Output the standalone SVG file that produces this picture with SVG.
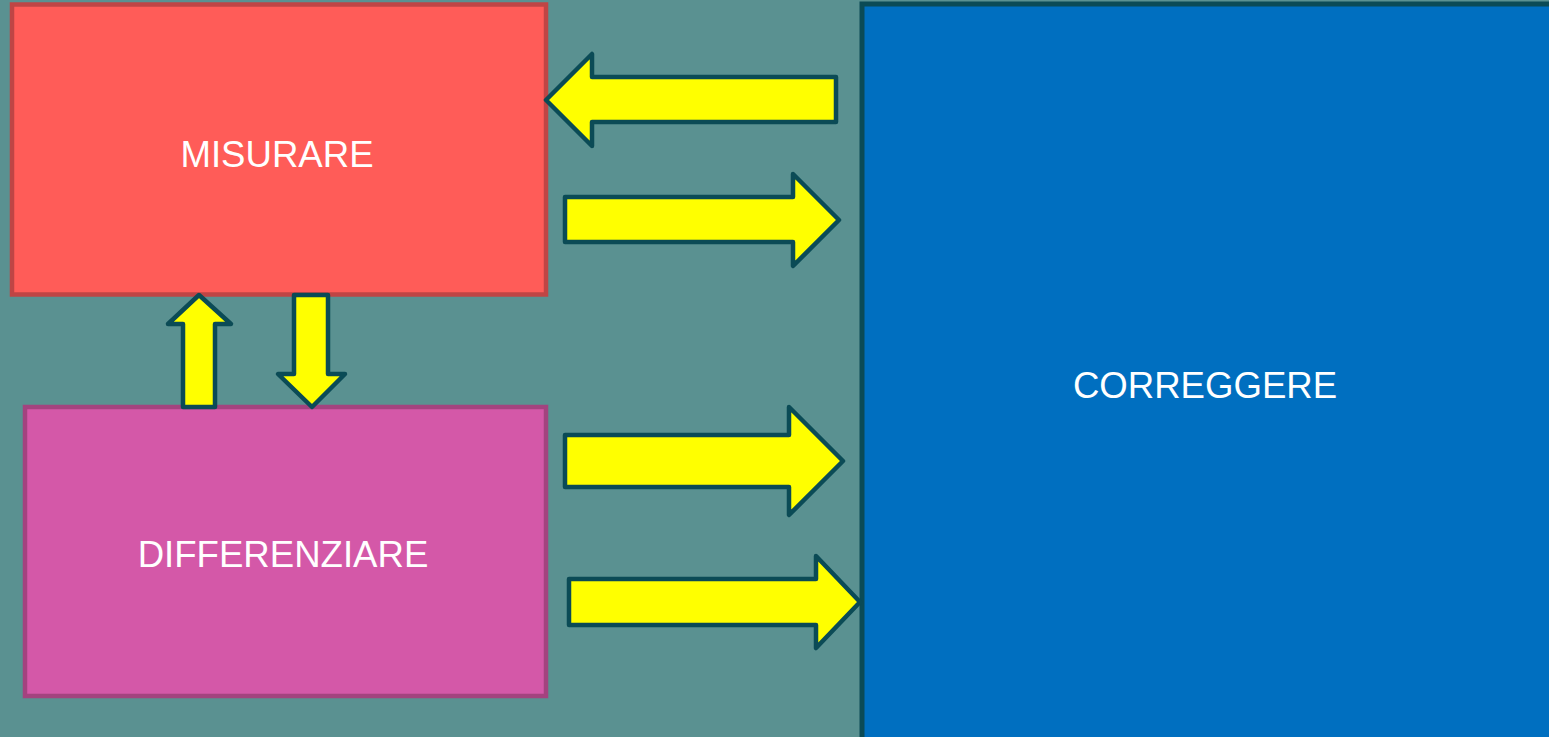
<svg xmlns="http://www.w3.org/2000/svg" width="1549" height="737" viewBox="0 0 1549 737">
  <style>
    .label { font-family: "Liberation Sans", Arial, sans-serif; font-size: 36.6px; fill: #ffffff; text-anchor: middle; }
    .arrow { fill: #ffff00; stroke: #0b4b56; stroke-width: 4.5; stroke-linejoin: round; }
  </style>
  <!-- background -->
  <rect x="0" y="0" width="1549" height="737" fill="#5a9191"/>

  <g id="node-misurare">
    <rect x="12" y="4.5" width="534" height="290" fill="#ff5c58" stroke="#bf4545" stroke-width="4.5"/>
    <text class="label" x="277" y="167">MISURARE</text>
  </g>

  <g id="node-differenziare">
    <rect x="25" y="407" width="521" height="289" fill="#d458a8" stroke="#a3437f" stroke-width="4.5"/>
    <text class="label" x="283" y="567">DIFFERENZIARE</text>
  </g>

  <g id="node-correggere">
    <rect x="862" y="4" width="700" height="750" fill="#006fc0" stroke="#0b4b56" stroke-width="5"/>
    <text class="label" x="1205" y="398">CORREGGERE</text>
  </g>

  <g id="connectors">
    <!-- CORREGGERE to MISURARE -->
    <polygon class="arrow" points="546,100 592,54 592,77 836,77 836,122 592,122 592,146"/>
    <!-- MISURARE to CORREGGERE -->
    <polygon class="arrow" points="565,197 793,197 793,174 839,220 793,266 793,242 565,242"/>
    <!-- DIFFERENZIARE to CORREGGERE -->
    <polygon class="arrow" points="565,435 789,435 789,407 843,461 789,515 789,487 565,487"/>
    <polygon class="arrow" points="569,579 816,579 816,556 860,602 816,648 816,625 569,625"/>
    <!-- DIFFERENZIARE to MISURARE -->
    <polygon class="arrow" points="199,295 231,324 215,324 215,407 183,407 183,324 168,324"/>
    <!-- MISURARE to DIFFERENZIARE -->
    <polygon class="arrow" points="294,295 328,295 328,374 345,374 312,407 278,374 294,374"/>
  </g>
</svg>
